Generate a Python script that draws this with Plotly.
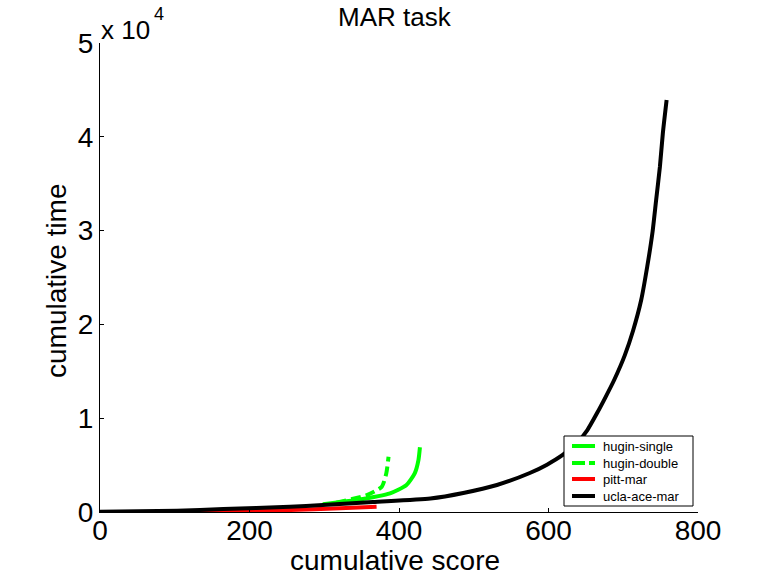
import plotly.graph_objects as go

# ---- data ----
ucla_x = [0, 103, 165, 254, 298, 365, 442, 486, 531, 575, 598, 619, 638, 652, 665, 676, 688,
          702, 713, 724, 732, 739, 744, 749, 753, 758]
ucla_y = [30, 140, 320, 565, 750, 1070, 1440, 2030, 2880, 4160, 5050, 6080, 7360, 8740, 10550, 12200, 14100,
          16700, 19300, 22600, 26120, 29740, 33260, 36780, 40400, 43920]

hs_x = [298, 343, 388, 410, 421, 426, 428]
hs_y = [820, 1280, 1990, 2880, 4120, 5540, 6900]

hd_x = [316, 357, 377, 383, 386]
hd_y = [990, 1810, 2700, 4120, 5900]

pitt_x = [103, 165, 254, 321, 370]
pitt_y = [0, 30, 210, 390, 565]

series_names = ["hugin-single", "hugin-double", "pitt-mar", "ucla-ace-mar"]
series_colors = ["#00ff00", "#00ff00", "#ff0000", "#000000"]
series_dash = ["solid", "10px,5px", "solid", "solid"]

x_ticks = [0, 200, 400, 600, 800]
y_ticks = [0, 10000, 20000, 30000, 40000, 50000]
y_ticktext = ["0", "1", "2", "3", "4", "5"]

FONT = "Liberation Sans, Arial, sans-serif"

fig = go.Figure()
for xs, ys, name, col, dash in zip([hs_x, hd_x, pitt_x, ucla_x], [hs_y, hd_y, pitt_y, ucla_y],
                                   series_names, series_colors, series_dash):
    fig.add_trace(go.Scatter(x=xs, y=ys, mode="lines", name=name,
                             line=dict(color=col, width=4, dash=dash, shape="spline", smoothing=0.6)))

L, R, T, B = 100, 698, 43, 512
W, H = 768, 576

def px(xp):
    return (xp - L) / (R - L)

def py(yp):
    return (B - yp) / (B - T)

fig.update_layout(
    width=W, height=H,
    margin=dict(l=L, r=W - R, t=T, b=H - B, pad=0),
    paper_bgcolor="white", plot_bgcolor="white",
    font=dict(family=FONT, color="black"),
    showlegend=False,
    xaxis=dict(range=[0, 800], tickvals=x_ticks, ticks="inside", ticklen=4, tickcolor="black",
               showline=True, linecolor="black", linewidth=1, showgrid=False, zeroline=False,
               ticklabelstandoff=-7,
               tickfont=dict(size=28, family=FONT, color="black")),
    yaxis=dict(range=[0, 50000], tickvals=y_ticks, ticktext=y_ticktext, ticks="inside", ticklen=4,
               tickcolor="black", showline=True, linecolor="black", linewidth=1, showgrid=False,
               zeroline=False, tickfont=dict(size=28, family=FONT, color="black")),
)

# title and axis labels
fig.add_annotation(text="MAR task", xref="paper", yref="paper", x=px(395), y=py(17),
                   xanchor="center", yanchor="middle", showarrow=False,
                   font=dict(size=26, family=FONT, color="black"))
fig.add_annotation(text="cumulative score", xref="paper", yref="paper", x=px(395), y=py(560),
                   xanchor="center", yanchor="middle", showarrow=False,
                   font=dict(size=28, family=FONT, color="black"))
fig.add_annotation(text="cumulative time", xref="paper", yref="paper", x=px(56), y=py(280),
                   xanchor="center", yanchor="middle", showarrow=False, textangle=-90,
                   font=dict(size=28, family=FONT, color="black"))
# exponent
fig.add_annotation(text="x 10", xref="paper", yref="paper", x=px(99), y=py(30),
                   xanchor="left", yanchor="middle", showarrow=False,
                   font=dict(size=26, family=FONT, color="black"))
fig.add_annotation(text="4", xref="paper", yref="paper", x=px(152), y=py(14),
                   xanchor="left", yanchor="middle", showarrow=False,
                   font=dict(size=18, family=FONT, color="black"))

# custom legend (MATLAB style)
fig.add_shape(type="rect", xref="paper", yref="paper", x0=px(564), x1=px(693), y0=py(506), y1=py(436),
              line=dict(color="black", width=1), fillcolor="white", layer="above")
rows = [446, 463, 479, 496]
for ry, name, col, dash in zip(rows, series_names, series_colors, series_dash):
    d = "13px,4px" if dash != "solid" else "solid"
    fig.add_shape(type="line", xref="paper", yref="paper", x0=px(572), x1=px(595), y0=py(ry), y1=py(ry),
                  line=dict(color=col, width=4, dash=d), layer="above")
    fig.add_annotation(text=name, xref="paper", yref="paper", x=px(601), y=py(ry),
                       xanchor="left", yanchor="middle", showarrow=False,
                       font=dict(size=13, family=FONT, color="black"))

fig.write_html("out.html")
